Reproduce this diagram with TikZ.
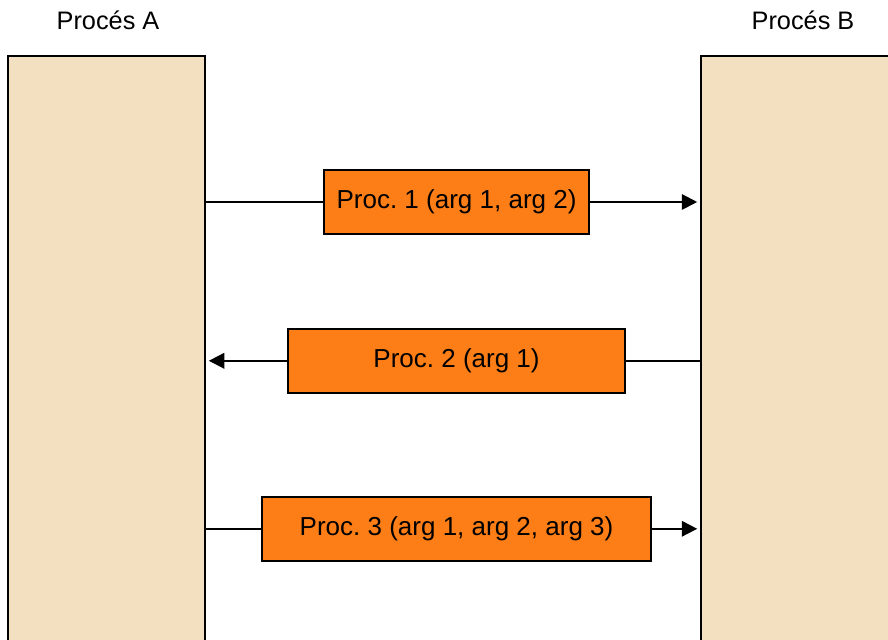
\documentclass[tikz,border=0pt]{standalone}
\usepackage{fontspec}
\setmainfont{Liberation Sans}
\usetikzlibrary{arrows.meta}
\frenchspacing

\definecolor{procfill}{HTML}{F3E0C1}
\definecolor{callfill}{HTML}{FD7E17}

\tikzset{
	procbar/.style={draw, line width=1.4pt, fill=procfill, shape=rectangle, inner sep=0pt},
	callbox/.style={draw, line width=1.4pt, fill=callfill, shape=rectangle, minimum height=1.61cm, inner sep=0pt, font=\fontsize{18.5}{21}\selectfont},
	proctitle/.style={font=\fontsize{18}{21}\selectfont, inner sep=0pt},
	wire/.style={line width=1.4pt},
	callarrow/.style={line width=1.4pt, -{Triangle[length=11pt, width=11pt]}, shorten >=2pt}
}

\begin{document}
\begin{tikzpicture}
		\clip (0, 0) rectangle (22.2, 16);
		% Paths, nodes and wires:
		\node[procbar, minimum width=4.925cm, minimum height=15.6cm] (procA) at (2.663, 6.8){};
		\node[procbar, minimum width=5.975cm, minimum height=15.6cm] (procB) at (20.513, 6.8){};
		\node[proctitle] (titleA) at (2.7, 15.48){Procés A};
		\node[proctitle] (titleB) at (20.075, 15.48){Procés B};
		\node[callbox, minimum width=6.625cm] (call1) at (11.413, 10.95){Proc. 1 (arg 1, arg 2)};
		\node[callbox, minimum width=8.425cm] (call2) at (11.413, 6.98){Proc. 2 (arg 1)};
		\node[callbox, minimum width=9.725cm] (call3) at (11.413, 2.78){Proc. 3 (arg 1, arg 2, arg 3)};
		\draw[wire] (call1.west -| procA.east) -- (call1.west);
		\draw[callarrow] (call1.east) -- (call1.east -| procB.west);
		\draw[wire] (call2.east -| procB.west) -- (call2.east);
		\draw[callarrow] (call2.west) -- (call2.west -| procA.east);
		\draw[wire] (call3.west -| procA.east) -- (call3.west);
		\draw[callarrow] (call3.east) -- (call3.east -| procB.west);
	\end{tikzpicture}
\end{document}
